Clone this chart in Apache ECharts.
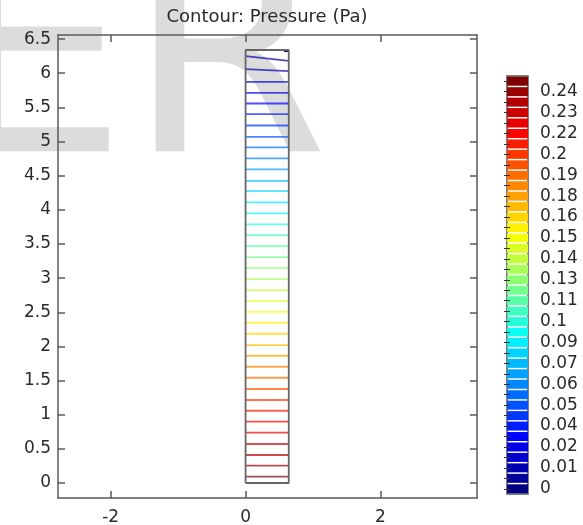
<!DOCTYPE html>
<html>
<head>
<meta charset="utf-8">
<script src="https://cdn.jsdelivr.net/npm/echarts@6/dist/echarts.min.js"></script>
<style>
  html, body { margin: 0; padding: 0; background: #fff; }
  #main { width: 583px; height: 525px; }
</style>
</head>
<body>
<div id="main"></div>
<script>
// colour legend labels, one for every second of the 40 contour levels
const levelLabels = ['0', '0.01', '0.02', '0.04', '0.05', '0.06', '0.07', '0.09', '0.1', '0.11',
  '0.13', '0.14', '0.15', '0.16', '0.18', '0.19', '0.2', '0.22', '0.23', '0.24'];
const levelCount = 40;

// domain outline (m)
const domainX = [0, 0.64, 0.64, 0, 0];
const domainY = [0, 0, 6.34, 6.34, 0];

// contour line heights, level 1 (top) to level 39 (bottom); [left, right] where it tilts
const contourY = [[6.25, 6.18], [6.06, 6.03], 5.873, 5.712, 5.557, 5.400, 5.235, 5.068, 4.913, 4.752,
  4.591, 4.424, 4.273, 4.108, 3.947, 3.786, 3.629, 3.468, 3.307, 3.151,
  2.985, 2.824, 2.663, 2.507, 2.346, 2.185, 2.020, 1.863, 1.702, 1.541,
  1.376, 1.215, 1.058, 0.897, 0.736, 0.571, 0.410, 0.253, 0.092];
// small level-0 piece in the top right corner
const levelZero = [[0.57, 6.33], [0.63, 6.33]];

const xTicks = [-2, 0, 2];
const yTicks = [0, 0.5, 1, 1.5, 2, 2.5, 3, 3.5, 4, 4.5, 5, 5.5, 6, 6.5];

function jet(t) {
  const c = v => Math.round(255 * Math.max(0, Math.min(1, v)));
  return 'rgb(' + c(1.5 - Math.abs(4 * t - 3)) + ',' + c(1.5 - Math.abs(4 * t - 2)) + ',' + c(1.5 - Math.abs(4 * t - 1)) + ')';
}

const font = 'DejaVu Sans';
const axisGray = '#5a5a5a';
const textColor = '#2a2a2a';

var series = [];

// contour lines
contourY.forEach((y, i) => {
  const yl = Array.isArray(y) ? y[0] : y;
  const yr = Array.isArray(y) ? y[1] : y;
  series.push({
    type: 'line', xAxisIndex: 0, yAxisIndex: 0,
    data: [[domainX[0], yl], [domainX[1], yr]],
    symbol: 'none', silent: true,
    lineStyle: { color: jet((i + 1) / (levelCount - 1)), width: 1.8, opacity: 0.7 }
  });
});
series.push({
  type: 'line', xAxisIndex: 0, yAxisIndex: 0, data: levelZero,
  symbol: 'none', lineStyle: { color: jet(0), width: 2.5 }
});

// domain boundary
series.push({
  type: 'line', xAxisIndex: 0, yAxisIndex: 0,
  data: domainX.map((x, i) => [x, domainY[i]]),
  symbol: 'none', z: 5,
  lineStyle: { color: '#666', width: 1.8 }
});

// colour legend
const levelIdx = Array.from({ length: levelCount }, (_, k) => String(k));
series.push({
  type: 'bar', xAxisIndex: 2, yAxisIndex: 2,
  data: levelIdx.map((k) => ({ value: 1, itemStyle: { color: jet(Number(k) / (levelCount - 1)) } })),
  barCategoryGap: '14%', silent: true
});

var myChart = echarts.init(document.getElementById('main'));

var option = {
  animation: false,
  title: {
    text: 'Contour: Pressure (Pa)',
    left: 267, top: 8, padding: 0, textAlign: 'center',
    textStyle: { fontFamily: font, fontSize: 18, fontWeight: 'normal', color: textColor }
  },
  graphic: [{
    type: 'text', left: -56, top: -69, z: -10, silent: true,
    style: { text: 'ER', fontFamily: font, fontSize: 290, fill: '#dcdcdc' }
  }],
  grid: [
    { left: 58, top: 35, width: 419, height: 463, outerBoundsMode: 'none' },
    { left: 507, top: 76, width: 21, height: 418, show: true, borderColor: '#555', borderWidth: 1.5,
      backgroundColor: '#fff', outerBoundsMode: 'none' }
  ],
  xAxis: [
    {
      type: 'value', gridIndex: 0, min: -2.78, max: 3.43, position: 'bottom',
      axisLine: { onZero: false, lineStyle: { color: axisGray, width: 1.5 } },
      axisTick: { inside: true, length: 7, customValues: xTicks, lineStyle: { color: axisGray, width: 1.5 } },
      axisLabel: { customValues: xTicks, margin: 11, fontFamily: font, fontSize: 17, color: textColor },
      splitLine: { show: false }
    },
    {
      type: 'value', gridIndex: 0, min: -2.78, max: 3.43, position: 'top',
      axisLine: { onZero: false, lineStyle: { color: axisGray, width: 1.5 } },
      axisTick: { inside: true, length: 7, customValues: xTicks, lineStyle: { color: axisGray, width: 1.5 } },
      axisLabel: { show: false }, splitLine: { show: false }
    },
    {
      type: 'value', gridIndex: 1, min: 0, max: 1, show: false
    }
  ],
  yAxis: [
    {
      type: 'value', gridIndex: 0, min: -0.22, max: 6.56, position: 'left',
      axisLine: { show: true, onZero: false, lineStyle: { color: axisGray, width: 1.5 } },
      axisTick: { show: true, inside: true, length: 7, customValues: yTicks, lineStyle: { color: axisGray, width: 1.5 } },
      axisLabel: { customValues: yTicks, margin: 7, fontFamily: font, fontSize: 17, color: textColor },
      splitLine: { show: false }
    },
    {
      type: 'value', gridIndex: 0, min: -0.22, max: 6.56, position: 'right',
      axisLine: { show: true, onZero: false, lineStyle: { color: axisGray, width: 1.5 } },
      axisTick: { show: true, inside: true, length: 7, customValues: yTicks, lineStyle: { color: axisGray, width: 1.5 } },
      axisLabel: { show: false }, splitLine: { show: false }
    },
    {
      type: 'category', gridIndex: 1, data: levelIdx, position: 'right', z: 4,
      axisLine: { show: false },
      axisTick: { show: true, inside: true, length: 3, alignWithLabel: true, interval: 0,
        lineStyle: { color: '#333', width: 1 } },
      axisLabel: { interval: 0, margin: 12, fontFamily: font, fontSize: 17, color: textColor,
        formatter: (v, idx) => (idx % 2 === 0 ? levelLabels[idx / 2] : '') }
    },
    {
      type: 'category', gridIndex: 1, data: levelIdx, position: 'left', z: 4,
      axisLine: { show: false },
      axisTick: { show: true, inside: true, length: 3, alignWithLabel: true, interval: 0,
        lineStyle: { color: '#333', width: 1 } },
      axisLabel: { show: false }
    }
  ],
  series: series
};

myChart.setOption(option);
</script>
</body>
</html>
